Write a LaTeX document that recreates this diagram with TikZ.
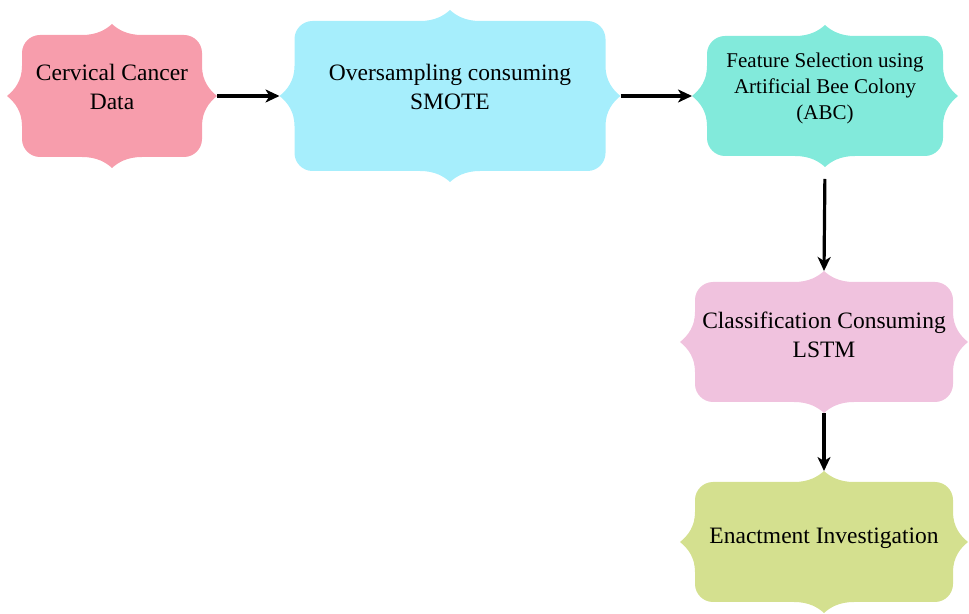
\documentclass[tikz,border=0pt]{standalone}
\usepackage{fontspec}
\setmainfont{Liberation Serif}
\usepackage{tikz}
\usetikzlibrary{positioning, calc, arrows.meta}

\definecolor{corDados}{RGB}{247,157,172}
\definecolor{corSmote}{RGB}{166,238,252}
\definecolor{corAbc}{RGB}{130,234,219}
\definecolor{corLstm}{RGB}{240,194,222}
\definecolor{corAval}{RGB}{212,224,143}

% medidas do contorno
\def\tipx{15pt}
\def\tipy{11pt}
\def\crad{18pt}
\def\bump{30pt}

\newcommand{\rotulo}[2][6pt]{\raisebox{#1}[\height][\depth]{\begin{tabular}{@{}c@{}}#2\end{tabular}}}

\begin{document}
\begin{tikzpicture}[x=1pt, y=1pt,
    % contorno em forma de placa com bicos
    plaque/.style={rectangle, inner sep=0pt, outer sep=0pt, font=\fontsize{23.5}{29}\selectfont,
        path picture={\fill[#1] let \p1=(path picture bounding box.south west),
            \p2=(path picture bounding box.north east),
            \p3=($(\p1)+(\tipx,\tipy)$), \p4=($(\p2)-(\tipx,\tipy)$),
            \p5=($(\p1)!.5!(\p2)$) in
            (\x1, \y5) .. controls ({\x1+0.5*\tipx}, {\y5+0.2*\bump}) and (\x3, {\y5+0.5*\bump}) .. (\x3, {\y5+\bump})
            -- (\x3, {\y4-\crad}) .. controls (\x3, {\y4-0.45*\crad}) and ({\x3+0.45*\crad}, \y4) .. ({\x3+\crad}, \y4)
            -- ({\x5-\bump}, \y4) .. controls ({\x5-0.5*\bump}, \y4) and ({\x5-0.2*\bump}, {\y4+0.5*\tipy}) .. (\x5, \y2)
            .. controls ({\x5+0.2*\bump}, {\y4+0.5*\tipy}) and ({\x5+0.5*\bump}, \y4) .. ({\x5+\bump}, \y4)
            -- ({\x4-\crad}, \y4) .. controls ({\x4-0.45*\crad}, \y4) and (\x4, {\y4-0.45*\crad}) .. (\x4, {\y4-\crad})
            -- (\x4, {\y5+\bump}) .. controls (\x4, {\y5+0.5*\bump}) and ({\x2-0.5*\tipx}, {\y5+0.2*\bump}) .. (\x2, \y5)
            .. controls ({\x2-0.5*\tipx}, {\y5-0.2*\bump}) and (\x4, {\y5-0.5*\bump}) .. (\x4, {\y5-\bump})
            -- (\x4, {\y3+\crad}) .. controls (\x4, {\y3+0.45*\crad}) and ({\x4-0.45*\crad}, \y3) .. ({\x4-\crad}, \y3)
            -- ({\x5+\bump}, \y3) .. controls ({\x5+0.5*\bump}, \y3) and ({\x5+0.2*\bump}, {\y3-0.5*\tipy}) .. (\x5, \y1)
            .. controls ({\x5-0.2*\bump}, {\y3-0.5*\tipy}) and ({\x5-0.5*\bump}, \y3) .. ({\x5-\bump}, \y3)
            -- ({\x3+\crad}, \y3) .. controls ({\x3+0.45*\crad}, \y3) and (\x3, {\y3+0.45*\crad}) .. (\x3, {\y3+\crad})
            -- (\x3, {\y5-\bump}) .. controls (\x3, {\y5-0.5*\bump}) and ({\x1+0.5*\tipx}, {\y5-0.2*\bump}) .. (\x1, \y5) -- cycle;}},
    seta/.style={draw, line width=3.2pt, -{Stealth[length=14pt, width=13pt, inset=4pt]}}
]
\useasboundingbox (0,0) rectangle (969,613);

% ==========================
% POSICOES
% ==========================
\def\Ytopo{517}
\def\Xcol{824}

% ==========================
% ETAPAS
% ==========================
\node[plaque=corDados, minimum width=210, minimum height=144] (dados) at (112, \Ytopo) {\rotulo[7pt]{Cervical Cancer\\Data}};
\node[plaque=corSmote, minimum width=341, minimum height=172] (smote) at (450, \Ytopo) {\rotulo[7pt]{Oversampling consuming\\SMOTE}};
\node[plaque=corAbc, minimum width=266, minimum height=142, font=\fontsize{21}{26}\selectfont] (abc) at (825, \Ytopo) {\rotulo[8pt]{Feature Selection using\\Artificial Bee Colony\\(ABC)}};
\node[plaque=corLstm, minimum width=288, minimum height=142] (lstm) at (\Xcol, 271) {\rotulo[5pt]{Classification Consuming\\LSTM}};
\node[plaque=corAval, minimum width=288, minimum height=142] (aval) at (\Xcol, 71) {\rotulo[4pt]{Enactment Investigation}};

% ==========================
% LIGACOES
% ==========================
\draw[seta] (dados.east) -- (smote.west);
\draw[seta] (smote.east) -- (abc.west);
\draw[seta, shorten <=12pt] (abc.south) -- (lstm.north);
\draw[seta] (lstm.south) -- (aval.north);

\end{tikzpicture}
\end{document}
